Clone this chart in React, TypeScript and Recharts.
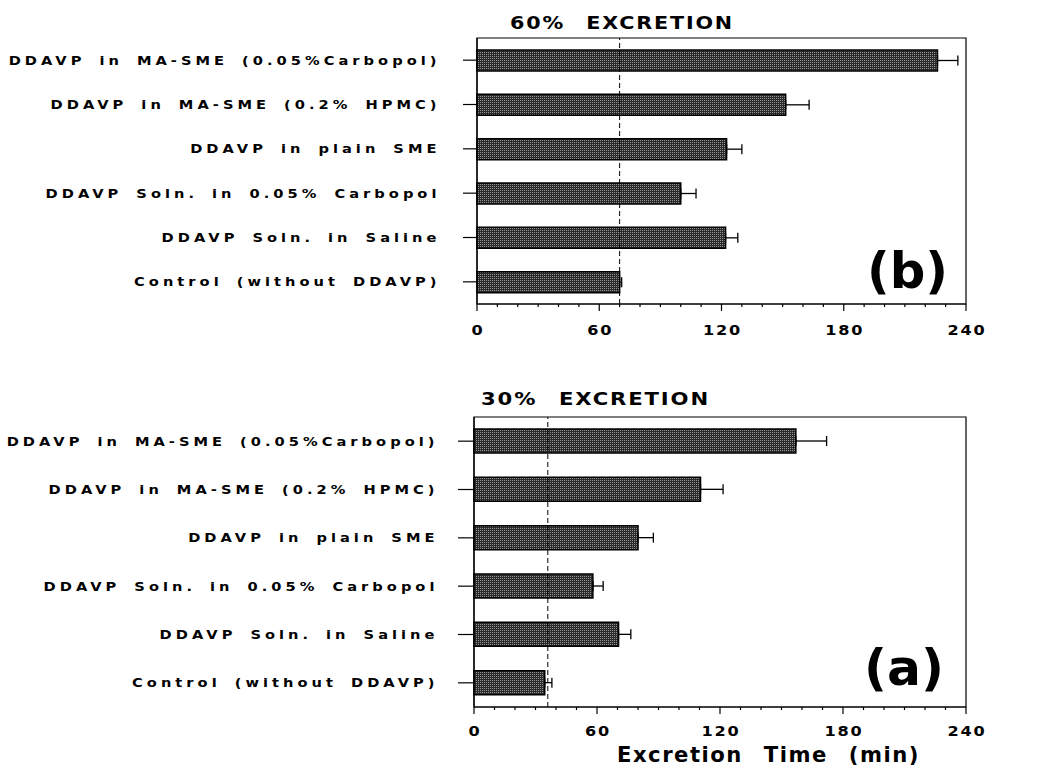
import React from 'react';
import { BarChart, Bar, XAxis, YAxis, ErrorBar, ReferenceLine, ReferenceArea } from 'recharts';

const categories = [
  'DDAVP in MA-SME (0.05%Carbopol)',
  'DDAVP in MA-SME (0.2% HPMC)',
  'DDAVP in plain SME',
  'DDAVP Soln. in 0.05% Carbopol',
  'DDAVP Soln. in Saline',
  'Control (without DDAVP)',
];

// 60% excretion (panel b)
const time60 = [226, 151.5, 122.5, 100, 122, 70];
const err60 = [10, 11.5, 7.5, 7.5, 6, 1];
// 30% excretion (panel a)
const time30 = [157, 110.5, 80, 58, 70.5, 34.5];
const err30 = [15, 11, 7.5, 5, 6, 3.5];

const xTicks = [0, 10, 20, 30, 40, 50, 60, 70, 80, 90, 100, 110, 120, 130, 140, 150, 160, 170, 180, 190, 200, 210, 220, 230, 240];
const majorTicks = [0, 60, 120, 180, 240];
const refLine60 = 70;
const refLine30 = 36;

const build = (vals: number[], errs: number[]) =>
  categories.map((name, i) => ({ name, value: vals[i], err: [0, errs[i]] }));

const data60 = build(time60, err60);
const data30 = build(time30, err30);

const FONT = '"DejaVu Sans", Arial, sans-serif';

type PanelProps = {
  data: any[];
  refX: number;
  top: number;
  height: number;
  plotTop: number;
  axisHeight: number;
  yWidth: number;
  barSize: number;
  yTickLen: number;
  labelGap: number;
  xLabelDy: number;
  pid: string;
};

function Panel(p: PanelProps) {
  const YTick = (props: any) => {
    const { x, y, payload } = props;
    const tx = x - p.yTickLen - p.labelGap + 3.5;
    return (
      <g>
        <line x1={x - p.yTickLen} x2={x} y1={y} y2={y} stroke="#000" strokeWidth={1.2} />
        <text
          transform={`translate(${tx},${y + 4.5}) scale(1.22,1)`}
          x={0}
          y={0}
          textAnchor="end"
          fontFamily={FONT}
          fontWeight="bold"
          fontSize={12}
          style={{ letterSpacing: '3.3px', wordSpacing: '4px' }}
          fill="#000"
        >
          {payload.value}
        </text>
      </g>
    );
  };
  const XTick = (props: any) => {
    const { x, y, payload } = props;
    const major = majorTicks.includes(payload.value);
    return (
      <g>
        <line x1={x} x2={x} y1={y} y2={y + (major ? 7 : 3)} stroke="#000" strokeWidth={1.2} />
        {major && (
          <text
            transform={`translate(${x + 1},${y + p.xLabelDy}) scale(1.15,1)`}
            x={0}
            y={0}
            textAnchor="middle"
            fontFamily={FONT}
            fontWeight="bold"
            fontSize={14}
            style={{ letterSpacing: '1.5px' }}
            fill="#000"
          >
            {payload.value}
          </text>
        )}
      </g>
    );
  };
  return (
    <div style={{ position: 'absolute', left: 0, top: p.top }}>
      <BarChart
        width={1040}
        height={p.height}
        data={p.data}
        layout="vertical"
        margin={{ top: p.plotTop, right: 74, bottom: 0, left: 0 }}
      >
        <defs>
          <pattern id={p.pid} width={2} height={2} patternUnits="userSpaceOnUse">
            <rect x={0} y={0} width={2} height={2} fill="#2a2a2a" />
            <rect x={0} y={0} width={1} height={1} fill="#949494" />
          </pattern>
        </defs>
        <XAxis
          type="number"
          domain={[0, 240]}
          ticks={xTicks}
          interval={0}
          height={p.axisHeight}
          tickSize={0}
          tickMargin={0}
          tickLine={false}
          tick={XTick}
          axisLine={{ stroke: '#000', strokeWidth: 1.2 }}
        />
        <YAxis
          type="category"
          dataKey="name"
          width={p.yWidth}
          tickSize={0}
          tickMargin={0}
          tickLine={false}
          tick={YTick}
          interval={0}
          axisLine={{ stroke: '#000', strokeWidth: 1.2 }}
        />
        <ReferenceArea x1={0} x2={240} fill="none" fillOpacity={0} stroke="#000" strokeWidth={1.2} />
        <Bar
          dataKey="value"
          barSize={p.barSize}
          fill={`url(#${p.pid})`}
          stroke="#000"
          strokeWidth={1.5}
          isAnimationActive={false}
        >
          <ErrorBar dataKey="err" direction="x" width={5} stroke="#000" strokeWidth={1.3} />
        </Bar>
        <ReferenceLine x={p.refX} stroke="#000" strokeWidth={1} strokeDasharray="5 3" />
      </BarChart>
    </div>
  );
}

export default function App() {
  return (
    <div style={{ position: 'absolute', left: 0, top: 0, width: 1040, height: 774, background: '#fff' }}>
      <Panel
        data={data60}
        refX={refLine60}
        top={0}
        height={360}
        plotTop={38}
        axisHeight={56}
        yWidth={477}
        barSize={21}
        yTickLen={14}
        labelGap={26}
        xLabelDy={31}
        pid="stip60"
      />
      <Panel
        data={data30}
        refX={refLine30}
        top={380}
        height={360}
        plotTop={37}
        axisHeight={33}
        yWidth={474}
        barSize={24}
        yTickLen={16}
        labelGap={23}
        xLabelDy={29}
        pid="stip30"
      />
      <svg
        width={1040}
        height={774}
        style={{ position: 'absolute', left: 0, top: 0, pointerEvents: 'none' }}
      >
        <text x={510} y={29} fontFamily={FONT} fontWeight="bold" fontSize={17} style={{ letterSpacing: '1.5px', wordSpacing: '10px' }} textLength={224} lengthAdjust="spacingAndGlyphs" fill="#000">
          60% EXCRETION
        </text>
        <text x={481} y={405} fontFamily={FONT} fontWeight="bold" fontSize={17} style={{ letterSpacing: '1.5px', wordSpacing: '10px' }} textLength={229} lengthAdjust="spacingAndGlyphs" fill="#000">
          30% EXCRETION
        </text>
        <text x={867} y={288} fontFamily={FONT} fontWeight="bold" fontSize={50} textLength={81} lengthAdjust="spacingAndGlyphs" fill="#000">
          (b)
        </text>
        <text x={864} y={685} fontFamily={FONT} fontWeight="bold" fontSize={50} textLength={80} lengthAdjust="spacingAndGlyphs" fill="#000">
          (a)
        </text>
        <text x={617} y={762} fontFamily={FONT} fontWeight="bold" fontSize={21} style={{ letterSpacing: '1.5px', wordSpacing: '12px' }} textLength={303} lengthAdjust="spacingAndGlyphs" fill="#000">
          Excretion Time (min)
        </text>
      </svg>
    </div>
  );
}
